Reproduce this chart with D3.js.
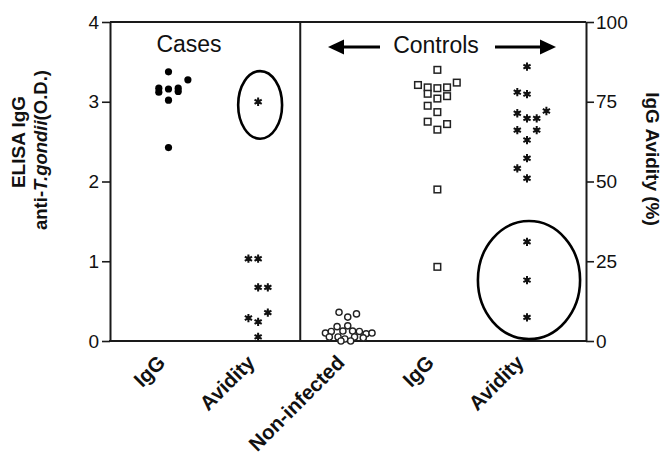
<!DOCTYPE html>
<html><head><meta charset="utf-8">
<script src="https://cdn.jsdelivr.net/npm/d3@7"></script>
<style>
body{margin:0;background:#fff}
svg{display:block}
text{font-family:"Liberation Sans",Arial,Helvetica,sans-serif;fill:#111}
</style>
</head><body>
<svg id="c" width="672" height="458"></svg>
<script>
// ---- data ----
const categories = ["casesIgG","casesAvidity","nonInfected","controlsIgG","controlsAvidity"];
const categoryLabels = ["IgG","Avidity","Non-infected","IgG","Avidity"];
const leftTicks = [0,1,2,3,4];
const rightTicks = [0,25,50,75,100];

// O.D. values (left axis)
const casesIgG      = [3.375,3.275,3.17,3.12,3.16,3.17,3.13,3.02,2.425];
const casesIgGSlot  = [0,2,-1,-1,0,1,1,0,0];
const nonInfected   = [0.36,0.30,0.34,0.18,0.19,0.10,0.12,0.125,0.125,0.12,0.09,0.10,0.05,0.05,0.025,0.05,0.04,0.0,0.0];
const nonInfectedSlot = [-0.9,0,0.9,-1.1,0,-2.3,-1.7,-0.5,0.5,1.2,1.9,2.5,-1.9,-1.0,-0.3,0.7,1.6,-0.7,0.3];
const controlsIgG   = [3.40,3.21,3.18,3.17,3.18,3.24,3.10,3.04,3.07,2.95,2.87,2.75,2.65,2.72,1.90,0.93];
const controlsIgGSlot = [0,-2,-1,0,1,2,-1,0,1,-1,0,-1,0,1,0,0];
// Avidity values in % (right axis)
const casesAvidity  = [75,25.8,25.8,16.8,16.8,8.9,7.2,6.0,1.3];
const casesAviditySlot = [0,-1,0,0,1,1,-1,0,0];
const controlsAvidity = [86.0,78.0,77.4,71.4,69.8,69.8,72.1,66.1,66.1,63.0,57.3,54.1,51.0,31.1,19.1,7.4];
const controlsAviditySlot = [0,-1,0,-1,0,1,2,-1,1,0,0,-1,0,0,0,0];

// highlighted groups (category, centre value %, half-range %)
const highlights = [
  {cat:"casesAvidity", center:74.0, half:10.6, halfWidth:0.245},
  {cat:"controlsAvidity", center:19.1, half:18.5, halfWidth:0.57}
];

// ---- layout ----
const svg = d3.select("#c");
const L = 110, R = 586, T = 22, B = 341;
const x = d3.scalePoint().domain(categories).range([168.5, 527]);
const yL = d3.scaleLinear().domain([0,4]).range([B,T]);
const yR = d3.scaleLinear().domain([0,100]).range([B,T]);
const slotW = 9.7;
const ink = "#1a1a1a";

// frame
svg.append("line").attr("x1",L).attr("x2",R).attr("y1",T).attr("y2",T).attr("stroke",ink).attr("stroke-width",2);
svg.append("line").attr("x1",L-1).attr("x2",R+1).attr("y1",B).attr("y2",B).attr("stroke",ink).attr("stroke-width",2);
const divX = x("casesAvidity") + x.step()*0.47;
svg.append("line").attr("x1",divX).attr("x2",divX).attr("y1",T).attr("y2",B).attr("stroke",ink).attr("stroke-width",2);

// axes
const gl = svg.append("g").attr("transform",`translate(${L},0)`)
  .call(d3.axisLeft(yL).tickValues(leftTicks).tickFormat(d3.format("d")).tickSize(8).tickPadding(3).tickSizeOuter(0));
const gr = svg.append("g").attr("transform",`translate(${R},0)`)
  .call(d3.axisRight(yR).tickValues(rightTicks).tickFormat(d3.format("d")).tickSize(8).tickPadding(2).tickSizeOuter(0));
[gl,gr].forEach(g=>{
  g.select(".domain").attr("stroke",ink).attr("stroke-width",2);
  g.selectAll(".tick line").attr("stroke",ink).attr("stroke-width",1.6);
  g.selectAll(".tick text").attr("font-size",19).attr("fill","#111")
   .style("font-family",'"Liberation Sans",Arial,sans-serif');
});

// axis titles
svg.append("text").attr("transform","translate(25,142) rotate(-90)")
  .attr("text-anchor","middle").attr("font-size",19).attr("font-weight","bold").text("ELISA IgG");
const lt2 = svg.append("text").attr("transform","translate(47,150) rotate(-90)")
  .attr("text-anchor","middle").attr("font-size",18.5).attr("font-weight","bold");
lt2.append("tspan").text("anti-");
lt2.append("tspan").attr("font-style","italic").text("T.gondii");
lt2.append("tspan").text("(O.D.)");
svg.append("text").attr("transform","translate(646,159) rotate(90)")
  .attr("text-anchor","middle").attr("font-size",19).attr("font-weight","bold").text("IgG Avidity (%)");

// category labels
svg.selectAll("text.cat").data(categories).join("text").attr("class","cat")
  .attr("transform",d=>`translate(${x(d)-2},364) rotate(-45)`)
  .attr("text-anchor","end").attr("font-size",20.5).attr("font-weight","bold")
  .text((d,i)=>categoryLabels[i]);

// headers
svg.append("text").attr("x",189).attr("y",52).attr("text-anchor","middle").attr("font-size",23).text("Cases");
svg.append("text").attr("x",436).attr("y",53).attr("text-anchor","middle").attr("font-size",23).text("Controls");
function arrow(x0,x1,y){
  const dir = Math.sign(x1-x0), hl=16, hw=7.5;
  svg.append("line").attr("x1",x0).attr("x2",x1-dir*hl+dir*2).attr("y1",y).attr("y2",y).attr("stroke","#000").attr("stroke-width",3.2);
  svg.append("path").attr("d",`M${x1},${y}L${x1-dir*hl},${y-hw}L${x1-dir*hl},${y+hw}Z`).attr("fill","#000");
}
arrow(380,328,47);
arrow(495,556,47);

// points
function pts(vals,slots,cat,scale){ return vals.map((v,i)=>({x:x(cat)+slots[i]*slotW, y:scale(v)})); }

svg.append("g").selectAll("circle").data(pts(casesIgG,casesIgGSlot,"casesIgG",yL)).join("circle")
  .attr("cx",d=>d.x).attr("cy",d=>d.y).attr("r",3.6).attr("fill","#000");

svg.append("g").selectAll("circle").data(pts(nonInfected,nonInfectedSlot,"nonInfected",yL)).join("circle")
  .attr("cx",d=>d.x).attr("cy",d=>d.y).attr("r",3.1).attr("fill","#fff").attr("stroke","#222").attr("stroke-width",1.4);

svg.append("g").selectAll("rect").data(pts(controlsIgG,controlsIgGSlot,"controlsIgG",yL)).join("rect")
  .attr("x",d=>d.x-3.3).attr("y",d=>d.y-3.3).attr("width",6.6).attr("height",6.6)
  .attr("fill","#fff").attr("stroke","#222").attr("stroke-width",1.5);

const star = d3.symbol().type(d3.symbolAsterisk).size(48);
[[casesAvidity,casesAviditySlot,"casesAvidity"],[controlsAvidity,controlsAviditySlot,"controlsAvidity"]].forEach(([v,s,c])=>{
  const g = svg.append("g");
  g.selectAll("path.a").data(pts(v,s,c,yR)).join("path").attr("class","a")
    .attr("transform",d=>`translate(${d.x},${d.y})`).attr("d",star).attr("fill","none").attr("stroke","#111").attr("stroke-width",2);
  g.selectAll("rect").data(pts(v,s,c,yR)).join("rect")
    .attr("x",d=>d.x-2).attr("y",d=>d.y-2).attr("width",4).attr("height",4).attr("fill","#111");
});

// highlight ellipses
svg.append("g").selectAll("ellipse").data(highlights).join("ellipse")
  .attr("cx",d=>x(d.cat)+2).attr("cy",d=>yR(d.center))
  .attr("rx",d=>d.halfWidth*x.step()).attr("ry",d=>yR(d.center-d.half)-yR(d.center))
  .attr("fill","none").attr("stroke","#000").attr("stroke-width",2.6);
</script>
</body></html>
